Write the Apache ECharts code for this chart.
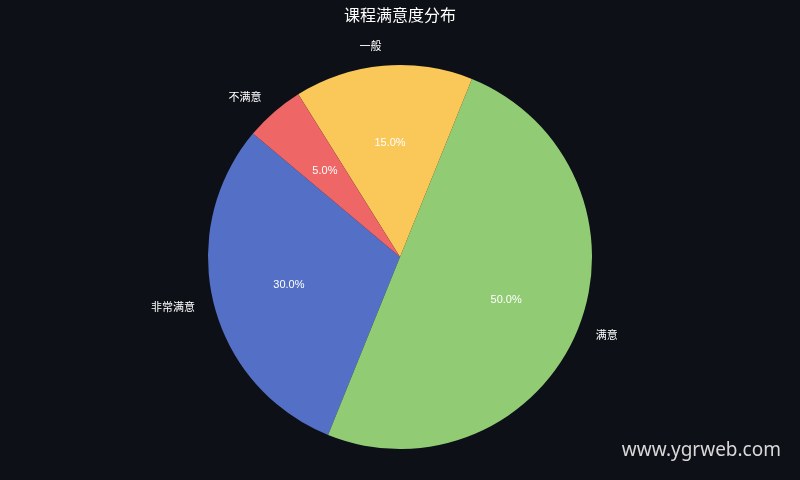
<!DOCTYPE html>
<html>
<head>
<meta charset="utf-8">
<script src="https://cdn.jsdelivr.net/npm/echarts@6/dist/echarts.min.js"></script>
<style>
html,body{margin:0;padding:0;background:#0d1017;}
#c{width:800px;height:480px;}
</style>
</head>
<body>
<div id="c"></div>
<script>
const categories = ['非常满意', '满意', '一般', '不满意'];
const values = [30, 50, 15, 5];
const colors = ['#5470c6', '#91cc75', '#fac858', '#ee6666'];
const titleText = '课程满意度分布';
const watermarkText = 'www.ygrweb.com';

const R = 192;
const data = categories.map((n, i) => ({ name: n, value: values[i], itemStyle: { color: colors[i] } }));
const fontFam = '"Liberation Sans", "Noto Sans CJK SC", sans-serif';

const chart = echarts.init(document.getElementById('c'));
chart.setOption({
  backgroundColor: '#0d1017',
  animation: false,
  title: [
    { text: titleText, left: 'center', top: 9, padding: 0,
      textStyle: { color: '#ffffff', fontSize: 16, fontWeight: 'normal', fontFamily: fontFam } },
    { text: watermarkText, right: 19, bottom: 20, padding: 0,
      textStyle: { color: '#d8d8d8', fontSize: 19, fontWeight: 'normal', fontFamily: '"Noto Sans", "Open Sans", sans-serif' } }
  ],
  series: [
    {
      type: 'pie',
      center: [400, 257],
      radius: [0, R],
      startAngle: 140,
      clockwise: false,
      avoidLabelOverlap: false,
      silent: true,
      data: data,
      itemStyle: { borderWidth: 0 },
      label: {
        show: true, position: 'outside', color: '#ffffff', fontSize: 11, fontFamily: fontFam,
        distanceToLabelLine: 0, formatter: '{b}'
      },
      labelLine: { show: false, length: R * 0.1, length2: 0 }
    },
    {
      type: 'pie',
      center: [400, 257],
      radius: [31, R],
      startAngle: 140,
      clockwise: false,
      avoidLabelOverlap: false,
      silent: true,
      data: data.map(d => ({ name: d.name, value: d.value, itemStyle: { color: 'rgba(0,0,0,0)' } })),
      itemStyle: { borderWidth: 0 },
      label: {
        show: true, position: 'inside', color: '#ffffff', fontSize: 11, fontFamily: fontFam,
        formatter: p => p.percent.toFixed(1) + '%'
      },
      labelLine: { show: false }
    }
  ]
});
</script>
</body>
</html>
